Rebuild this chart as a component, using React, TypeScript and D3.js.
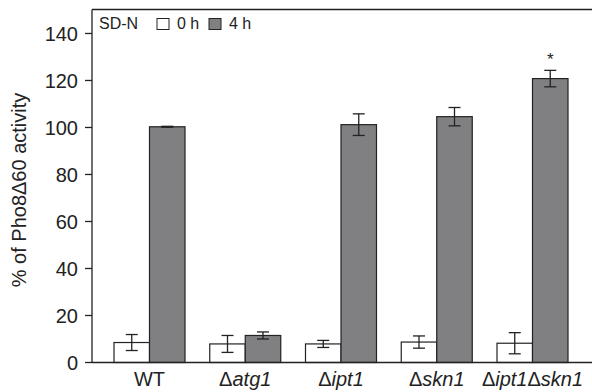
import React from 'react';
import * as d3 from 'd3';

// strain names: prefix (upright) + italic gene parts
const strains = ['WT', 'atg1', 'ipt1', 'skn1', 'ipt1skn1'];
const strainParts: [string, string][][] = [
  [['', 'WT']],
  [['Δ', 'atg1']],
  [['Δ', 'ipt1']],
  [['Δ', 'skn1']],
  [['Δ', 'ipt1'], ['Δ', 'skn1']],
];
const values0h = [8.5, 7.9, 7.9, 8.7, 8.2];
const errors0h = [3.4, 3.6, 1.5, 2.6, 4.5];
const values4h = [100.3, 11.5, 101.2, 104.6, 120.8];
const errors4h = [0.2, 1.5, 4.6, 3.9, 3.5];
const significant = [false, false, false, false, true];
const yTicks = [0, 20, 40, 60, 80, 100, 120, 140];
const seriesNames = ['0 h', '4 h'];
const seriesColors = ['#ffffff', '#808083'];

const W = 592;
const H = 392;
const margin = { top: 9.5, right: 0, bottom: 29.5, left: 92 };

export default function App() {
  const y = d3.scaleLinear().domain([0, 150.2]).range([H - margin.bottom, margin.top]);
  const x = d3
    .scalePoint<string>()
    .domain(strains)
    .range([149.5, 532.5]);
  const barW = 35.5;
  const font = 'Liberation Sans, Arial, Helvetica, sans-serif';
  const series = [
    { vals: values0h, errs: errors0h, off: -barW },
    { vals: values4h, errs: errors4h, off: 0 },
  ];

  return (
    <svg
      width={W}
      height={H}
      style={{ position: 'absolute', left: 0, top: 0, fontFamily: font }}
    >
      <rect x={0} y={0} width={W} height={H} fill="#fff" />
      {/* top frame line */}
      <line x1={margin.left} x2={W} y1={margin.top} y2={margin.top} stroke="#222" strokeWidth={1.3} />

      {/* bars */}
      {series.map((s, si) =>
        strains.map((st, i) => {
          const x0 = (x(st) as number) + s.off;
          const top = y(s.vals[i]);
          return (
            <rect
              key={`b${si}-${i}`}
              x={x0}
              y={top}
              width={barW}
              height={y(0) - top}
              fill={seriesColors[si]}
              stroke="#222"
              strokeWidth={1.2}
            />
          );
        })
      )}

      {/* error bars */}
      {series.map((s, si) =>
        strains.map((st, i) => {
          const cx = (x(st) as number) + s.off + barW / 2;
          const hi = y(s.vals[i] + s.errs[i]);
          const lo = y(s.vals[i] - s.errs[i]);
          const cap = 6;
          return (
            <g key={`e${si}-${i}`} stroke="#222" strokeWidth={1.3}>
              <line x1={cx} x2={cx} y1={hi} y2={lo} />
              <line x1={cx - cap} x2={cx + cap} y1={hi} y2={hi} />
              <line x1={cx - cap} x2={cx + cap} y1={lo} y2={lo} />
            </g>
          );
        })
      )}

      {/* significance */}
      {strains.map((st, i) =>
        significant[i] ? (
          <text
            key={`s${i}`}
            x={(x(st) as number) + barW / 2}
            y={y(values4h[i] + errors4h[i]) - 5}
            textAnchor="middle"
            fontSize={17}
            fill="#222"
          >
            *
          </text>
        ) : null
      )}

      {/* y axis */}
      <line x1={margin.left} x2={margin.left} y1={margin.top} y2={y(0)} stroke="#222" strokeWidth={1.3} />
      {yTicks.map((t) => (
        <g key={`t${t}`}>
          <line x1={margin.left - 7} x2={margin.left} y1={y(t)} y2={y(t)} stroke="#222" strokeWidth={1.3} />
          <text x={margin.left - 14} y={y(t)} dy="0.36em" textAnchor="end" fontSize={20} fill="#222">
            {t}
          </text>
        </g>
      ))}
      <text
        transform={`translate(19,190) rotate(-90)`}
        textAnchor="middle"
        dy="0.35em"
        fontSize={20}
        fill="#222"
      >
        % of Pho8Δ60 activity
      </text>

      {/* x axis */}
      <line x1={margin.left} x2={W} y1={y(0)} y2={y(0)} stroke="#222" strokeWidth={1.5} />
      {strains.map((st, i) => (
        <text key={`x${i}`} x={x(st) as number} y={386} textAnchor="middle" fontSize={20} fill="#222">
          {strainParts[i].map((p, j) => (
            <React.Fragment key={j}>
              {p[0] && <tspan>{p[0]}</tspan>}
              <tspan fontStyle={p[0] ? 'italic' : 'normal'}>{p[1]}</tspan>
            </React.Fragment>
          ))}
        </text>
      ))}

      {/* legend */}
      <text x={99} y={28.5} fontSize={16} fill="#222">
        SD-N
      </text>
      {seriesNames.map((n, i) => (
        <g key={`l${i}`} transform={`translate(${157 + i * 52},18.5)`}>
          <rect x={0} y={0} width={12} height={11} fill={seriesColors[i]} stroke="#222" strokeWidth={1} />
          <text x={20} y={10} fontSize={16} fill="#222">
            {n}
          </text>
        </g>
      ))}
    </svg>
  );
}
